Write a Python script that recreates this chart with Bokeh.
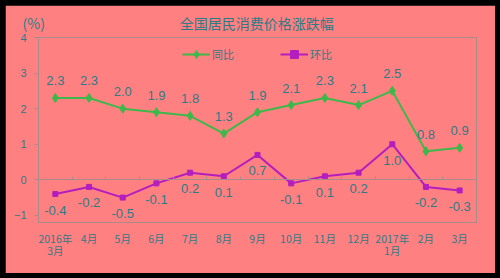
from bokeh.plotting import figure
from bokeh.models import (Range1d, FixedTicker, LinearAxis, Legend, LegendItem,
                          ColumnDataSource)
from bokeh.core.properties import value
from bokeh.embed import file_html
from bokeh.resources import INLINE

categories = ["2016年\n3月", "4月", "5月", "6月", "7月", "8月", "9月", "10月",
              "11月", "12月", "2017年\n1月", "2月", "3月"]
yoy = [2.3, 2.3, 2.0, 1.9, 1.8, 1.3, 1.9, 2.1, 2.3, 2.1, 2.5, 0.8, 0.9]
mom = [-0.4, -0.2, -0.5, -0.1, 0.2, 0.1, 0.7, -0.1, 0.1, 0.2, 1.0, -0.2, -0.3]
y_ticks = [-1, 0, 1, 2, 3, 4]
title_text = "全国居民消费价格涨跌幅"
unit_text = "(%)"

BG = "#FF8080"
TXT = "#2E7B88"
GRID = "#A88C8C"
GREEN = "#3DB84A"
PURPLE = "#B41EBE"
NUM_FONT = "Liberation Sans"
CJK_FONT = "Noto Sans CJK SC"

xs = list(range(len(categories)))
src = ColumnDataSource(data=dict(x=xs, yoy=yoy, mom=mom,
                                 yoy_lbl=[f"{v:.1f}" for v in yoy],
                                 mom_lbl=[f"{v:.1f}" for v in mom]))

p = figure(width=490, height=268, output_backend="svg", toolbar_location=None,
           x_range=Range1d(-0.5, len(categories) - 0.5),
           y_range=Range1d(-1.2, 4.0),
           min_border_left=33, min_border_right=19, min_border_top=29,
           min_border_bottom=51, x_axis_type=None, y_axis_type=None)
p.background_fill_color = BG
p.border_fill_color = BG
p.outline_line_color = GRID
p.outline_line_width = 1
p.grid.visible = False

# y axis
yax = LinearAxis(ticker=FixedTicker(ticks=y_ticks))
yax.axis_line_color = GRID
yax.major_tick_line_color = GRID
yax.major_tick_out = 4
yax.major_tick_in = 0
yax.minor_tick_line_color = None
yax.major_label_text_color = TXT
yax.major_label_text_font = NUM_FONT
yax.major_label_text_font_size = "11px"
yax.major_label_standoff = 8
p.add_layout(yax, "left")

# bottom category labels
xax = LinearAxis(ticker=FixedTicker(ticks=xs))
xax.major_label_overrides = {i: c for i, c in zip(xs, categories)}
xax.axis_line_color = None
xax.major_tick_line_color = None
xax.minor_tick_line_color = None
xax.major_tick_in = 0
xax.major_tick_out = 0
xax.major_label_text_color = TXT
xax.major_label_text_font = CJK_FONT
xax.major_label_text_font_size = "10.5px"
xax.major_label_text_line_height = 0.8
xax.major_label_standoff = 8
p.add_layout(xax, "below")

# zero axis line with category boundary ticks
zax = LinearAxis(ticker=FixedTicker(ticks=[i + 0.5 for i in xs[:-1]]))
zax.fixed_location = 0
zax.axis_line_color = GRID
zax.major_tick_line_color = GRID
zax.major_tick_in = 3
zax.major_tick_out = 0
zax.minor_tick_line_color = None
zax.major_label_overrides = {i + 0.5: "" for i in xs[:-1]}
zax.major_label_text_font_size = "1px"
zax.major_label_standoff = 0
p.add_layout(zax, "below")

l1 = p.line("x", "yoy", source=src, line_color=GREEN, line_width=2)
m1 = p.scatter("x", "yoy", source=src, marker="diamond", size=9,
               fill_color=GREEN, line_color=GREEN)
l2 = p.line("x", "mom", source=src, line_color=PURPLE, line_width=2)
m2 = p.scatter("x", "mom", source=src, marker="square", size=5,
               fill_color=PURPLE, line_color=PURPLE)

p.text("x", "yoy", text="yoy_lbl", source=src, text_align="center",
       text_baseline="middle", y_offset=-17, text_color=TXT,
       text_font=value(NUM_FONT), text_font_size="13px")
p.text("x", "mom", text="mom_lbl", source=src, text_align="center",
       text_baseline="middle", y_offset=16, text_color=TXT,
       text_font=value(NUM_FONT), text_font_size="13px")

legend = Legend(items=[LegendItem(label="同比", renderers=[l1, m1]),
                       LegendItem(label="环比", renderers=[l2, m2])],
                location="top_center", orientation="horizontal")
legend.background_fill_alpha = 0
legend.border_line_color = None
legend.margin = 7
legend.padding = 10
legend.spacing = 46
legend.glyph_width = 28
legend.label_standoff = 2
legend.label_text_color = TXT
legend.label_text_font = CJK_FONT
legend.label_text_font_size = "11px"
p.add_layout(legend, "center")

# title line: unit label at the left, chart title further right
p.title.text = unit_text + "\u00a0" * 43 + title_text
p.title.align = "left"
p.title.offset = -16
p.title.text_color = TXT
p.title.text_font = CJK_FONT
p.title.text_font_size = "14px"
p.title.text_font_style = "normal"

html = file_html(p, INLINE)
html = html.replace("</head>",
                    "<style>html,body{margin:0;background:#000000;}"
                    "body{padding:5px;}</style></head>", 1)
open("out.html", "w").write(html)
